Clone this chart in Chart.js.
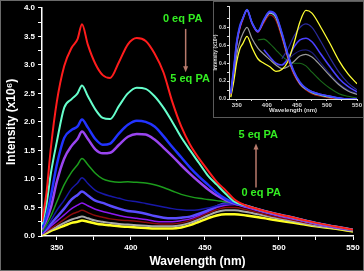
<!DOCTYPE html>
<html>
<head>
<meta charset="utf-8">
<script src="https://cdn.jsdelivr.net/npm/chart.js@4"></script>
<style>
  html, body { margin: 0; padding: 0; background: #000; }
  #wrap { position: relative; width: 364px; height: 271px; background: #000; overflow: hidden; }
  #main { position: absolute; left: 0; top: 0; }
  #insetBox { position: absolute; left: 213px; top: 1px; width: 151px; height: 117px; background: #000;
              box-sizing: border-box; border: 1px solid #5a5a5a; }
  #inset { position: absolute; left: -1px; top: -1px; }
  #frame { position: absolute; left: 0; top: 0; width: 364px; height: 271px; box-sizing: border-box;
           border: 1px solid #6a6a6a; pointer-events: none; }
</style>
</head>
<body>
<div id="wrap">
  <canvas id="main" width="364" height="271"></canvas>
  <div id="insetBox"><canvas id="inset" width="151" height="117"></canvas></div>
  <div id="frame"></div>
</div>
<script>
// ---- main plot data (intensity x10^6 vs wavelength nm) ----
const WAVELENGTH = [340, 343, 346, 350, 355, 360, 364, 367, 371, 376, 381, 386, 392, 398, 404, 410, 416,
  422, 428, 434, 440, 446, 452, 458, 464, 470, 478, 486, 495, 505, 515, 525, 537, 550]

const RED = [0.25, 0.75, 1.55, 2.35, 2.98, 3.3, 3.45, 3.71, 3.35, 3.02, 2.82, 2.77, 3.05, 3.36, 3.47, 3.42, 3.2,
  2.87, 2.35, 1.92, 1.6, 1.36, 1.15, 0.95, 0.8, 0.64, 0.53, 0.47, 0.41, 0.35, 0.29, 0.23, 0.17, 0.11]
const CYAN = [0.2, 0.55, 1.1, 1.65, 2.25, 2.4, 2.5, 2.64, 2.45, 2.22, 2.07, 2.05, 2.28, 2.5, 2.6, 2.58, 2.45,
  2.25, 2.0, 1.73, 1.5, 1.28, 1.06, 0.9, 0.74, 0.6, 0.53, 0.47, 0.41, 0.35, 0.29, 0.23, 0.17, 0.11]
const BLUE = [0.15, 0.35, 0.7, 1.25, 1.72, 1.86, 1.92, 2.04, 1.9, 1.7, 1.6, 1.62, 1.8, 1.95, 2.02, 2.0, 1.92,
  1.75, 1.56, 1.38, 1.2, 1.04, 0.9, 0.76, 0.65, 0.58, 0.53, 0.47, 0.41, 0.35, 0.29, 0.23, 0.17, 0.11]
const PURPLE = [0.12, 0.28, 0.5, 0.95, 1.36, 1.58, 1.7, 1.83, 1.7, 1.52, 1.45, 1.46, 1.6, 1.74, 1.79, 1.78, 1.69,
  1.55, 1.4, 1.24, 1.09, 0.95, 0.82, 0.71, 0.63, 0.57, 0.52, 0.46, 0.4, 0.34, 0.28, 0.22, 0.16, 0.105]
const GREEN = [0.08, 0.2, 0.35, 0.6, 0.9, 1.12, 1.25, 1.36, 1.25, 1.1, 1.0, 0.96, 0.94, 0.95, 0.94, 0.93, 0.9,
  0.85, 0.79, 0.73, 0.69, 0.66, 0.64, 0.62, 0.6, 0.57, 0.52, 0.46, 0.4, 0.34, 0.28, 0.22, 0.16, 0.1]
const NAVY = [0.06, 0.15, 0.27, 0.45, 0.63, 0.83, 0.93, 1.02, 0.92, 0.8, 0.74, 0.7, 0.66, 0.62, 0.6, 0.57, 0.54,
  0.51, 0.48, 0.46, 0.45, 0.46, 0.49, 0.53, 0.56, 0.56, 0.52, 0.46, 0.4, 0.34, 0.28, 0.22, 0.16, 0.11]
const BLUEVIOLET = [0.05, 0.12, 0.21, 0.33, 0.48, 0.64, 0.72, 0.78, 0.71, 0.62, 0.58, 0.53, 0.48, 0.44, 0.42, 0.39, 0.35,
  0.32, 0.31, 0.32, 0.34, 0.39, 0.45, 0.52, 0.57, 0.57, 0.52, 0.46, 0.4, 0.34, 0.28, 0.22, 0.16, 0.105]
const VIOLET = [0.04, 0.1, 0.17, 0.26, 0.37, 0.48, 0.54, 0.58, 0.53, 0.47, 0.43, 0.4, 0.36, 0.33, 0.31, 0.29, 0.26,
  0.25, 0.25, 0.27, 0.3, 0.36, 0.43, 0.5, 0.54, 0.55, 0.5, 0.44, 0.38, 0.32, 0.27, 0.21, 0.15, 0.1]
const DARKRED = [0.04, 0.08, 0.13, 0.2, 0.29, 0.38, 0.42, 0.45, 0.41, 0.36, 0.33, 0.3, 0.28, 0.27, 0.26, 0.24, 0.22,
  0.21, 0.21, 0.23, 0.27, 0.33, 0.4, 0.46, 0.5, 0.5, 0.46, 0.41, 0.35, 0.3, 0.25, 0.2, 0.15, 0.1]
const GRAY = [0.03, 0.07, 0.11, 0.16, 0.23, 0.29, 0.32, 0.34, 0.31, 0.27, 0.25, 0.23, 0.21, 0.2, 0.19, 0.18, 0.17,
  0.17, 0.17, 0.19, 0.23, 0.29, 0.36, 0.42, 0.45, 0.45, 0.42, 0.38, 0.33, 0.28, 0.23, 0.18, 0.14, 0.09]
const YELLOW = [0.02, 0.05, 0.09, 0.13, 0.18, 0.23, 0.25, 0.27, 0.25, 0.22, 0.2, 0.19, 0.17, 0.16, 0.15, 0.14, 0.13,
  0.13, 0.13, 0.15, 0.19, 0.25, 0.31, 0.36, 0.38, 0.38, 0.36, 0.33, 0.29, 0.25, 0.21, 0.17, 0.13, 0.08]

const X_TICKS = [350, 375, 400, 425, 450, 475, 500, 525, 550]

// ---- inset data (normalised) ----
const IN_WAVELENGTH = [340, 345, 350, 355, 360, 367, 375, 385, 395, 405, 415, 425, 435, 445, 455, 465, 475, 490, 505, 520, 535, 550]
const IN_RED = [0.05, 0.3, 0.6, 0.78, 0.88, 1.0, 0.85, 0.75, 0.85, 0.94, 0.88, 0.68, 0.45, 0.27, 0.16, 0.1, 0.06, 0.03, 0.01, 0, 0, 0]
const IN_CYAN = [0.06, 0.32, 0.62, 0.8, 0.9, 1.0, 0.86, 0.76, 0.87, 0.96, 0.91, 0.71, 0.47, 0.29, 0.17, 0.11, 0.07, 0.04, 0.02, 0.01, 0, 0]
const IN_BLUE = [0.07, 0.35, 0.65, 0.82, 0.9, 1.0, 0.86, 0.76, 0.89, 0.98, 0.94, 0.74, 0.5, 0.31, 0.19, 0.12, 0.08, 0.05, 0.03, 0.01, 0, 0]
const IN_PURPLE = [0.06, 0.33, 0.64, 0.8, 0.9, 0.99, 0.85, 0.75, 0.88, 0.97, 0.93, 0.73, 0.49, 0.3, 0.18, 0.12, 0.08, 0.05, 0.03, 0.01, 0, 0]
const IN_GRAY = [0.04, 0.25, 0.5, 0.64, 0.73, 0.8, 0.68, 0.57, 0.5, 0.44, 0.38, 0.34, 0.36, 0.42, 0.48, 0.5, 0.47, 0.37, 0.26, 0.16, 0.09, 0.05]
const IN_YELLOW = [0.02, 0.2, 0.42, 0.56, 0.62, 0.7, 0.58, 0.45, 0.4, 0.36, 0.31, 0.33, 0.42, 0.62, 0.86, 0.99, 0.96, 0.8, 0.62, 0.43, 0.28, 0.17]
const IN_BLUEVIOLET = [null, null, null, null, null, null, null, null, 0.55, 0.47, 0.4, 0.38, 0.45, 0.58, 0.66, 0.68, 0.64, 0.5, 0.36, 0.23, 0.14, 0.08]
const IN_NAVY = [null, null, null, null, null, null, null, null, null, null, null, 0.45, 0.56, 0.7, 0.8, 0.84, 0.8, 0.64, 0.46, 0.3, 0.18, 0.1]
const IN_DARK = [null, null, null, null, null, null, null, null, null, null, null, 0.38, 0.44, 0.5, 0.54, 0.55, 0.52, 0.4, 0.28, 0.17, 0.1, 0.06]
const IN_GREEN = [null, null, null, null, null, null, null, 0.66, 0.67, 0.62, 0.55, 0.48, 0.43, 0.4, 0.4, 0.37, 0.3, 0.2, 0.12, 0.06, 0.03, 0.01]

// annotation text / arrows, placed in data space
const NOTES = [
  { text: '0 eq PA', x: 435, y: 3.81 },
  { text: '5 eq PA', x: 440, y: 2.75 },
  { text: '5 eq PA', x: 486, y: 1.77 },
  { text: '0 eq PA', x: 488, y: 0.75 }
]
const ARROWS = [
  { x: 437, from: 3.63, to: 2.87 },
  { x: 484.5, from: 0.85, to: 1.62 }
]

const FONT = 'Liberation Sans, Arial, sans-serif'

function series(xs, ys) {
  return xs.map((x, i) => ({ x, y: ys[i] }))
}

function line(xs, ys, color, width) {
  return {
    data: series(xs, ys),
    borderColor: color,
    borderWidth: width,
    pointRadius: 0,
    cubicInterpolationMode: 'monotone',
    fill: false
  }
}

// fixed tick list so 350 is not dropped next to the axis minimum
function fixedTicks(scale) {
  scale.ticks = X_TICKS.map(v => ({ value: v }))
}

const annotations = {
  id: 'annotations',
  afterDatasetsDraw(chart) {
    const { ctx, scales: { x, y } } = chart
    ctx.save()
    ctx.fillStyle = '#33ee22'
    ctx.font = 'bold 11px ' + FONT
    ctx.textAlign = 'center'
    ctx.textBaseline = 'middle'
    NOTES.forEach(n => ctx.fillText(n.text, x.getPixelForValue(n.x), y.getPixelForValue(n.y)))

    ctx.strokeStyle = '#b87a6c'
    ctx.fillStyle = '#b87a6c'
    ctx.lineWidth = 1.5
    ARROWS.forEach(a => {
      const px = x.getPixelForValue(a.x)
      const y0 = y.getPixelForValue(a.from)
      const y1 = y.getPixelForValue(a.to)
      const dir = y1 > y0 ? 1 : -1
      ctx.beginPath()
      ctx.moveTo(px, y0)
      ctx.lineTo(px, y1 - dir * 4)
      ctx.stroke()
      ctx.beginPath()
      ctx.moveTo(px, y1)
      ctx.lineTo(px - 2.5, y1 - dir * 6)
      ctx.lineTo(px + 2.5, y1 - dir * 6)
      ctx.closePath()
      ctx.fill()
    })
    ctx.restore()
  }
}

// main chart
new Chart(document.getElementById('main'), {
  type: 'line',
  data: {
    datasets: [
      line(WAVELENGTH, RED, '#ff1c1c', 2),
      line(WAVELENGTH, CYAN, '#66ffcc', 2),
      line(WAVELENGTH, BLUE, '#2233ff', 2.5),
      line(WAVELENGTH, PURPLE, '#9a45f0', 2.5),
      line(WAVELENGTH, GREEN, '#1c9c1c', 1.5),
      line(WAVELENGTH, NAVY, '#1818a8', 1.5),
      line(WAVELENGTH, BLUEVIOLET, '#5a4cff', 2.5),
      line(WAVELENGTH, VIOLET, '#8c18f0', 1.5),
      line(WAVELENGTH, DARKRED, '#8c0c0c', 1.5),
      line(WAVELENGTH, GRAY, '#a8a8a8', 2),
      line(WAVELENGTH, YELLOW, '#ffff22', 2.5)
    ]
  },
  options: {
    responsive: false,
    animation: false,
    layout: { padding: { left: 0, right: 11, top: 6, bottom: 0 } },
    plugins: { legend: { display: false }, tooltip: { enabled: false } },
    scales: {
      x: {
        type: 'linear',
        min: 340,
        max: 550,
        afterBuildTicks: fixedTicks,
        afterFit: s => { s.height = 35 },
        border: { color: '#fff', width: 1.5 },
        grid: { drawOnChartArea: false, color: '#fff', tickLength: 4 },
        ticks: {
          autoSkip: false,
          maxRotation: 0,
          padding: 3,
          color: '#fff',
          font: { family: FONT, size: 8, weight: 'bold' },
          callback: v => (v % 50 === 0 ? String(v) : '')
        },
        title: {
          display: true,
          text: 'Wavelength (nm)',
          color: '#fff',
          font: { family: FONT, size: 12, weight: 'bold' },
          padding: { top: 0, bottom: 2 }
        }
      },
      y: {
        min: 0,
        max: 4,
        afterFit: s => { s.width = 42 },
        border: { color: '#fff', width: 1.5 },
        grid: { drawOnChartArea: false, color: '#fff', tickLength: 4 },
        ticks: {
          stepSize: 0.25,
          autoSkip: false,
          padding: 3,
          color: '#fff',
          font: { family: FONT, size: 8, weight: 'bold' },
          callback: v => (Math.round(v * 100) % 50 === 0 ? v.toFixed(1) : '')
        },
        title: {
          display: true,
          text: 'Intensity (x10\u2076)',
          color: '#fff',
          font: { family: FONT, size: 12, weight: 'bold' },
          padding: { top: 4, bottom: 0 }
        }
      }
    }
  },
  plugins: [annotations]
})

// inset chart
new Chart(document.getElementById('inset'), {
  type: 'line',
  data: {
    datasets: [
      line(IN_WAVELENGTH, IN_BLUE, '#3a48ff', 1.7),
      line(IN_WAVELENGTH, IN_PURPLE, '#9a45f0', 1.6),
      line(IN_WAVELENGTH, IN_CYAN, '#66ffcc', 1.1),
      line(IN_WAVELENGTH, IN_RED, '#b01414', 1.1),
      line(IN_WAVELENGTH, IN_YELLOW, '#ffff33', 1.3),
      line(IN_WAVELENGTH, IN_GRAY, '#9a9a9a', 1.2),
      line(IN_WAVELENGTH, IN_BLUEVIOLET, '#4a40ff', 1.6),
      line(IN_WAVELENGTH, IN_NAVY, '#2a2a9a', 1.2),
      line(IN_WAVELENGTH, IN_DARK, '#1c1c78', 1.2),
      line(IN_WAVELENGTH, IN_GREEN, '#1a6a1a', 1.1)
    ]
  },
  options: {
    responsive: false,
    animation: false,
    layout: { padding: { left: 0, right: 7, top: 5, bottom: 0 } },
    plugins: { legend: { display: false }, tooltip: { enabled: false } },
    scales: {
      x: {
        type: 'linear',
        min: 337,
        max: 550,
        afterBuildTicks: fixedTicks,
        afterFit: s => { s.height = 19 },
        border: { color: '#ddd', width: 1 },
        grid: { drawOnChartArea: false, color: '#ddd', tickLength: 2 },
        ticks: {
          autoSkip: false,
          maxRotation: 0,
          padding: 1,
          color: '#ddd',
          font: { family: FONT, size: 6, weight: 'bold' },
          callback: v => (v % 50 === 0 ? String(v) : '')
        },
        title: {
          display: true,
          text: 'Wavelength (nm)',
          color: '#ddd',
          font: { family: FONT, size: 6, weight: 'bold' },
          padding: { top: 0, bottom: 4 }
        }
      },
      y: {
        min: 0,
        max: 1.04,
        afterFit: s => { s.width = 16 },
        border: { color: '#ddd', width: 1 },
        grid: { drawOnChartArea: false, color: '#ddd', tickLength: 2 },
        ticks: {
          stepSize: 0.1,
          autoSkip: false,
          padding: 1,
          color: '#ddd',
          font: { family: FONT, size: 5, weight: 'bold' },
          callback: v => (Math.round(v * 10) % 2 === 0 && v <= 1.0001 ? v.toFixed(1) : '')
        },
        title: {
          display: true,
          text: 'Intensity (x10\u2076)',
          color: '#ddd',
          font: { family: FONT, size: 5, weight: 'bold' },
          padding: { top: 0, bottom: 0 }
        }
      }
    }
  }
})
</script>
</body>
</html>
